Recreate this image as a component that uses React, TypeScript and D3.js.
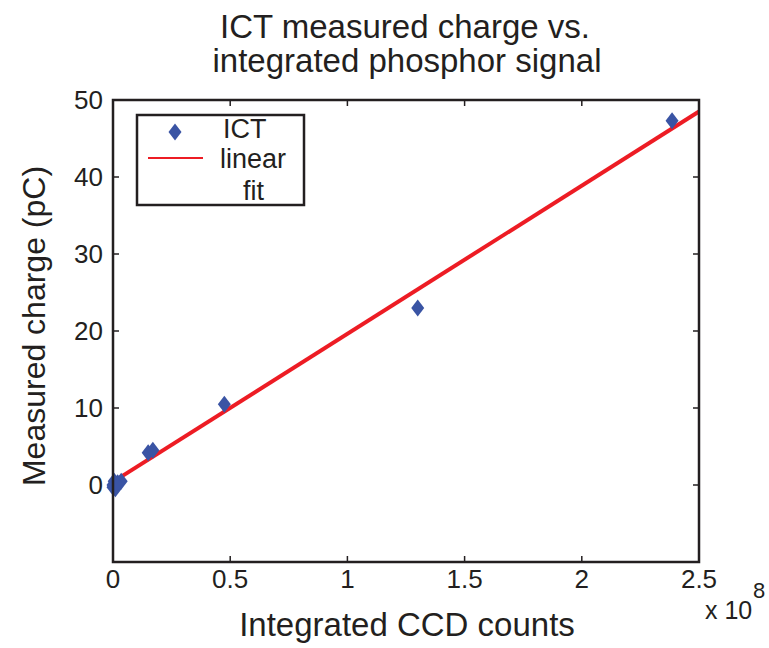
import React from "react";
import * as d3 from "d3";

const ictX = [2.385, 1.3, 0.475, 0.15, 0.17, 0.0, 0.005, 0.01, 0.02, 0.035, 0.0, 0.015];
const ictY = [47.3, 23.0, 10.5, 4.2, 4.5, 0.0, 0.5, -0.5, 0.3, 0.5, -0.3, 0.1];
const fitX = [0, 2.5];
const fitY = [0.4, 48.5];
const xTicks = [0, 0.5, 1, 1.5, 2, 2.5];
const yTicks = [0, 10, 20, 30, 40, 50];
const xTickLabels = ["0", "0.5", "1", "1.5", "2", "2.5"];

export default function App() {
  const W = 769, H = 648;
  const L = 113, R = 699, T = 100, B = 562;
  const x = d3.scaleLinear().domain([0, 2.5]).range([L, R]);
  const y = d3.scaleLinear().domain([-10, 50]).range([B, T]);
  const font = "Liberation Sans, Arial, Helvetica, sans-serif";
  const ink = "#231f20";
  const blue = "#3a54a4";
  const red = "#ed1c24";
  const line = d3.line<number>().x((d) => x(fitX[d])).y((d) => y(fitY[d]));
  const diamond = (cx: number, cy: number, w = 6.5, h = 8.5) =>
    `M${cx},${cy - h}L${cx + w},${cy}L${cx},${cy + h}L${cx - w},${cy}Z`;
  return (
    <svg width={W} height={H} style={{ position: "absolute", left: 0, top: 0, background: "#fff" }} fontFamily={font}>
      <rect x={0} y={0} width={W} height={H} fill="#fff" />
      <text x={405} y={38} fontSize={33} textAnchor="middle" fill={ink}>ICT measured charge vs.</text>
      <text x={407} y={72} fontSize={33} textAnchor="middle" fill={ink}>integrated phosphor signal</text>
      {xTicks.map((t, i) => (
        <g key={"x" + i}>
          <line x1={x(t)} x2={x(t)} y1={B} y2={B - 6} stroke={ink} strokeWidth={1.5} />
          <line x1={x(t)} x2={x(t)} y1={T} y2={T + 6} stroke={ink} strokeWidth={1.5} />
          <text x={x(t)} y={588} fontSize={26} textAnchor="middle" fill={ink}>{xTickLabels[i]}</text>
        </g>
      ))}
      {yTicks.map((t, i) => (
        <g key={"y" + i}>
          <line x1={L} x2={L + 6} y1={y(t)} y2={y(t)} stroke={ink} strokeWidth={1.5} />
          <line x1={R} x2={R - 6} y1={y(t)} y2={y(t)} stroke={ink} strokeWidth={1.5} />
          <text x={103} y={y(t) + 9} fontSize={26} textAnchor="end" fill={ink}>{t}</text>
        </g>
      ))}
      <path d={line([0, 1]) || ""} stroke={red} strokeWidth={4} fill="none" />
      {ictX.map((v, i) => (
        <path key={"p" + i} d={diamond(x(v), y(ictY[i]))} fill={blue} />
      ))}
      <rect x={L} y={T} width={R - L} height={B - T} fill="none" stroke={ink} strokeWidth={2.5} />
      <rect x={137} y={115} width={167} height={90} fill="#fff" stroke={ink} strokeWidth={2.5} />
      <path d={diamond(175, 132)} fill={blue} />
      <line x1={148} x2={203} y1={158} y2={158} stroke={red} strokeWidth={2} />
      <text x={223} y={138} fontSize={27} fill={ink}>ICT</text>
      <text x={220} y={168} fontSize={27} fill={ink}>linear</text>
      <text x={243} y={200} fontSize={27} fill={ink}>fit</text>
      <text x={705} y={619} fontSize={25} fill={ink}>x 10</text>
      <text x={753} y={598} fontSize={22} fill={ink}>8</text>
      <text x={407} y={636} fontSize={33} textAnchor="middle" fill={ink}>Integrated CCD counts</text>
      <text transform="translate(45,326) rotate(-90)" fontSize={32} textAnchor="middle" fill={ink}>Measured charge (pC)</text>
    </svg>
  );
}
